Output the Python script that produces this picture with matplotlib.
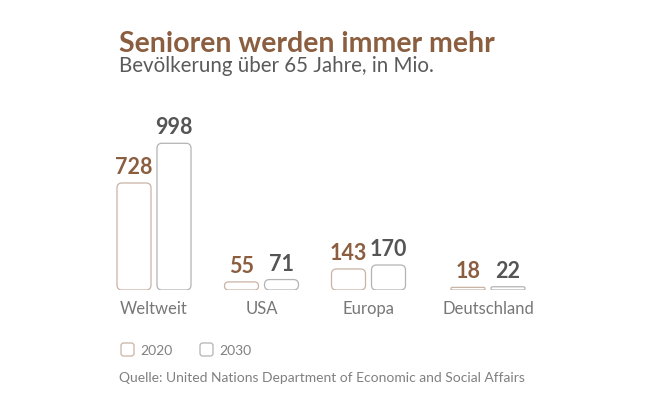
import matplotlib.pyplot as plt
from matplotlib.patches import FancyBboxPatch

plt.rcParams['font.family'] = ['Lato', 'DejaVu Sans']

# data
regions = ['Weltweit', 'USA', 'Europa', 'Deutschland']
years = ['2020', '2030']
val_2020 = [728, 55, 143, 18]
val_2030 = [998, 71, 170, 22]

# layout (pixels)
W, H = 664, 394
group_x = [154, 261.5, 368.5, 488]
bar_w = 34
bar_off = 20
base_px = 290
px_per_unit = 0.147

brown = '#8b5e40'
dark = '#555555'
edge_2020 = '#c9b3a5'
edge_2030 = '#b3b3b3'

fig = plt.figure(figsize=(W / 100, H / 100), dpi=100)
ax = fig.add_axes([0, (H - base_px) / H, 1, 230 / H])
ax.set_xlim(0, W)
ax.set_ylim(0, 230 / px_per_unit)
ax.axis('off')
aspect = 1 / px_per_unit


def bar(cx, v, edge):
    h_px = v * px_per_unit
    r = min(5, h_px / 2)
    p = FancyBboxPatch((cx - bar_w / 2, 0), bar_w, v,
                       boxstyle=f'round,pad=0,rounding_size={r}',
                       mutation_aspect=aspect, facecolor='white',
                       edgecolor=edge, linewidth=0.9)
    ax.add_patch(p)


for gx, a, b in zip(group_x, val_2020, val_2030):
    bar(gx - bar_off, a, edge_2020)
    bar(gx + bar_off, b, edge_2030)
    ax.annotate(str(a), (gx - bar_off, a), xytext=(0, 6.5), textcoords='offset points',
                ha='center', va='baseline', fontsize=15.5, fontweight='bold', color=brown)
    ax.annotate(str(b), (gx + bar_off, b), xytext=(0, 6.5), textcoords='offset points',
                ha='center', va='baseline', fontsize=15.5, fontweight='bold', color=dark)


def ftext(x, y, s, **kw):
    fig.text(x / W, 1 - y / H, s, **kw)


for gx, name in zip(group_x, regions):
    ftext(gx, 314, name, ha='center', va='baseline', fontsize=12,
          color='#777777')

ftext(119, 52, 'Senioren werden immer mehr', fontsize=20.5, fontweight='bold', color=brown,
      va='baseline')
ftext(119, 72, 'Bevölkerung über 65 Jahre, in Mio.', fontsize=14.8,
      color='#5a5a5a', va='baseline')

# legend
for lx, tx, yr, edge in [(121, 140, years[0], edge_2020), (200, 219, years[1], edge_2030)]:
    sq = FancyBboxPatch((lx / W, 1 - 356 / H), 13 / W, 13 / H,
                        boxstyle='round,pad=0,rounding_size=0.004',
                        mutation_aspect=W / H, transform=fig.transFigure,
                        facecolor='white', edgecolor=edge, linewidth=0.9)
    fig.patches.append(sq)
    ftext(tx, 355, yr, fontsize=10, color='#808080', va='baseline')

ftext(119, 382, 'Quelle: United Nations Department of Economic and Social Affairs',
      fontsize=10, color='#808080', va='baseline')

fig.savefig('out.png', dpi=100, facecolor='white')
